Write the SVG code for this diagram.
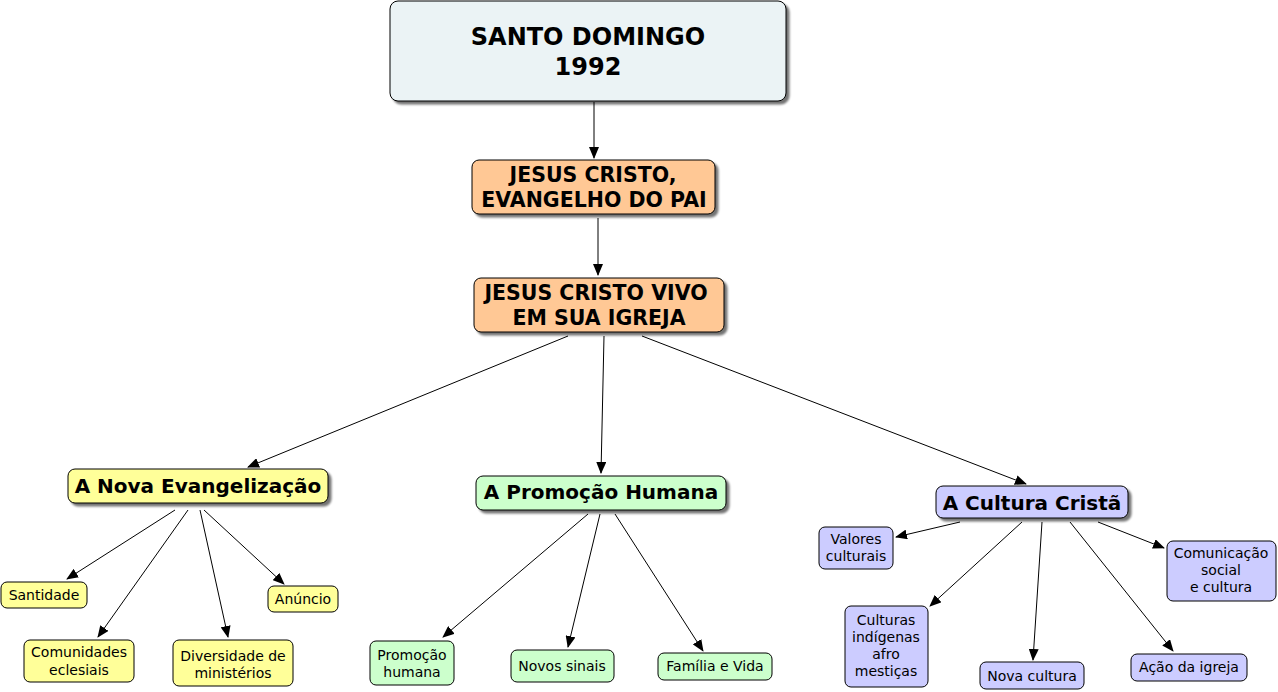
<svg xmlns="http://www.w3.org/2000/svg" width="1278" height="692" viewBox="0 0 1278 692">
<defs>
<marker id="ah" markerWidth="12" markerHeight="10" refX="11" refY="5" orient="auto" markerUnits="userSpaceOnUse">
<path d="M0,0 L12,5 L0,10 Z" fill="#000"/>
</marker>
<filter id="sh" x="-10%" y="-10%" width="130%" height="140%">
<feGaussianBlur in="SourceAlpha" stdDeviation="1.2"/>
<feOffset dx="3" dy="3" result="b"/>
<feComponentTransfer><feFuncA type="linear" slope="0.55"/></feComponentTransfer>
<feMerge><feMergeNode/><feMergeNode in="SourceGraphic"/></feMerge>
</filter>
</defs>
<style>
rect{stroke:#000;stroke-width:1}
.t{font-family:"DejaVu Sans",Verdana,sans-serif;fill:#000;text-anchor:middle}
.b{font-weight:bold}
.big{font-size:24px}
.mid{font-size:20.5px}
.lvl{font-size:20px}
.sm{font-size:14px}
.c line{stroke:#000;stroke-width:1;marker-end:url(#ah)}
.top{fill:#ebf3f5}
.or{fill:#ffc895}
.ye{fill:#ffff99}
.gr{fill:#ccffcc}
.pu{fill:#ccccff}
</style>
<rect width="1278" height="692" fill="#fff" style="stroke:none"/>
<g class="c" id="connectors">
<line x1="594" y1="102" x2="594" y2="158"/>
<line x1="598" y1="218" x2="598" y2="275"/>
<line x1="568" y1="336" x2="248" y2="467"/>
<line x1="604" y1="336" x2="601" y2="473"/>
<line x1="642" y1="336" x2="1026" y2="484"/>
<line x1="175" y1="510" x2="67" y2="579"/>
<line x1="188" y1="510" x2="98" y2="637"/>
<line x1="200" y1="510" x2="228" y2="637"/>
<line x1="204" y1="510" x2="284" y2="584"/>
<line x1="588" y1="514" x2="443" y2="637"/>
<line x1="600" y1="514" x2="568" y2="647"/>
<line x1="615" y1="514" x2="703" y2="651"/>
<line x1="960" y1="522" x2="896" y2="537"/>
<line x1="1022" y1="522" x2="930" y2="606"/>
<line x1="1042" y1="522" x2="1033" y2="660"/>
<line x1="1070" y1="522" x2="1173" y2="651"/>
<line x1="1098" y1="522" x2="1164" y2="548"/>
</g>
<g id="n-santo"><rect class="top" x="390" y="1" width="396" height="100" rx="8" filter="url(#sh)"/><text class="t b big" x="588" y="45">SANTO DOMINGO</text><text class="t b big" x="588" y="75">1992</text></g>
<g id="n-evangelho"><rect class="or" x="472" y="160" width="243" height="54" rx="7" filter="url(#sh)"/><text class="t b mid" x="593" y="182">JESUS CRISTO,</text><text class="t b mid" x="594" y="207">EVANGELHO DO PAI</text></g>
<g id="n-vivo"><rect class="or" x="474" y="278" width="250" height="54" rx="7" filter="url(#sh)"/><text class="t b mid" x="596" y="300">JESUS CRISTO VIVO</text><text class="t b mid" x="599" y="325">EM SUA IGREJA</text></g>
<g id="n-nova"><rect class="ye" x="68" y="469" width="260" height="34" rx="7" filter="url(#sh)"/><text class="t b lvl" x="198" y="493">A Nova Evangelização</text></g>
<g id="n-promocao"><rect class="gr" x="476" y="476" width="250" height="34" rx="7" filter="url(#sh)"/><text class="t b lvl" x="601" y="499">A Promoção Humana</text></g>
<g id="n-cultura"><rect class="pu" x="936" y="486" width="192" height="32" rx="7" filter="url(#sh)"/><text class="t b lvl" x="1032" y="510">A Cultura Cristã</text></g>
<g id="n-santidade"><rect class="ye" x="1" y="582" width="86" height="26" rx="6"/><text class="t sm" x="44" y="600">Santidade</text></g>
<g id="n-anuncio"><rect class="ye" x="268" y="586" width="70" height="26" rx="6"/><text class="t sm" x="303" y="604">Anúncio</text></g>
<g id="n-comunidades"><rect class="ye" x="24" y="640" width="110" height="42" rx="6"/><text class="t sm" x="79" y="657">Comunidades</text><text class="t sm" x="79" y="675">eclesiais</text></g>
<g id="n-diversidade"><rect class="ye" x="173" y="640" width="120" height="46" rx="6"/><text class="t sm" x="233" y="661">Diversidade de</text><text class="t sm" x="233" y="678">ministérios</text></g>
<g id="n-promhum"><rect class="gr" x="370" y="641" width="84" height="44" rx="6"/><text class="t sm" x="412" y="660">Promoção</text><text class="t sm" x="412" y="677">humana</text></g>
<g id="n-novos"><rect class="gr" x="511" y="650" width="103" height="32" rx="6"/><text class="t sm" x="562" y="671">Novos sinais</text></g>
<g id="n-familia"><rect class="gr" x="658" y="653" width="114" height="27" rx="6"/><text class="t sm" x="715" y="671">Família e Vida</text></g>
<g id="n-valores"><rect class="pu" x="819" y="527" width="74" height="42" rx="6"/><text class="t sm" x="856" y="544">Valores</text><text class="t sm" x="856" y="561">culturais</text></g>
<g id="n-comunicacao"><rect class="pu" x="1167" y="541" width="109" height="60" rx="6"/><text class="t sm" x="1221" y="558">Comunicação</text><text class="t sm" x="1221" y="575">social</text><text class="t sm" x="1221" y="592">e cultura</text></g>
<g id="n-culturas"><rect class="pu" x="845" y="606" width="83" height="81" rx="6"/><text class="t sm" x="886" y="625">Culturas</text><text class="t sm" x="886" y="642">indígenas</text><text class="t sm" x="886" y="659">afro</text><text class="t sm" x="886" y="676">mestiças</text></g>
<g id="n-novacult"><rect class="pu" x="980" y="662" width="104" height="27" rx="6"/><text class="t sm" x="1032" y="681">Nova cultura</text></g>
<g id="n-acao"><rect class="pu" x="1131" y="654" width="116" height="27" rx="6"/><text class="t sm" x="1189" y="672">Ação da igreja</text></g>
</svg>
